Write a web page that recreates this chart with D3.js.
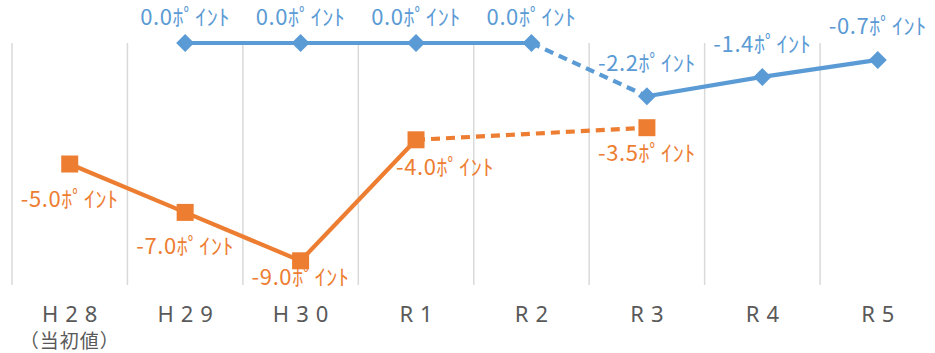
<!DOCTYPE html>
<html><head><meta charset="utf-8">
<script src="https://cdn.jsdelivr.net/npm/d3@7"></script>
<style>html,body{margin:0;padding:0;background:#fff;}</style>
</head><body>
<svg id="chart" width="935" height="353"></svg>
<script>
// ---- data ----
const categories = ["H28","H29","H30","R1","R2","R3","R4","R5"];
const subLabels  = ["（当初値）","","","","","","",""];
const blueValues   = [null, 0.0, 0.0, 0.0, 0.0, -2.2, -1.4, -0.7];
const orangeValues = [-5.0, -7.0, -9.0, -4.0, null, -3.5, null, null];
const blueDashed   = [[4,5]];
const orangeDashed = [[3,5]];
const unitLabel = "ﾎﾟｲﾝﾄ";

// ---- layout (label offsets from their point, px) ----
const blueLabelOffsets   = [null,[0,-26],[0,-26],[0,-26],[0,-26],[0,-33],[0,-33],[0,-34]];
const orangeLabelOffsets = [[0,35],[0,34],[0,16],[29,27],null,[0,25],null,null];

const svg = d3.select("#chart");
const x = d3.scaleBand().domain(categories).range([12, 935.5]).padding(0);
const y = d3.scaleLinear().domain([-10, 0]).range([285, 43]);
const cx = i => x(categories[i]) + x.bandwidth()/2;

// gridlines
svg.append("g").selectAll("line").data(categories).join("line")
  .attr("x1", d => x(d)).attr("x2", d => x(d))
  .attr("y1", y(0)).attr("y2", y(-10))
  .attr("stroke", "#d9d9d9").attr("stroke-width", 1.5);

// axis
const axis = svg.append("g").attr("transform", `translate(0,${y(-10)})`)
  .call(d3.axisBottom(x).tickSize(0).tickPadding(0));
axis.select(".domain").remove();
axis.selectAll(".tick text").remove();
axis.selectAll(".tick").each(function(d, i) {
  const g = d3.select(this);
  g.append("text").attr("y", 36.5).attr("x", 3.5)
    .attr("text-anchor", "middle")
    .attr("fill", "#595959")
    .style("font-family", "'Noto Sans', sans-serif")
    .style("font-size", "22px")
    .style("letter-spacing", "7px")
    .text(d);
  if (subLabels[i]) {
    g.append("text").attr("y", 62.5).attr("x", 0)
      .attr("text-anchor", "middle")
      .attr("fill", "#595959")
      .style("font-family", "'Noto Sans CJK JP', sans-serif")
      .style("font-size", "19px")
      .style("letter-spacing", "1px")
      .text(subLabels[i]);
  }
});

function drawSeries(values, dashed, color, symbol, symSize, rotate, offsets) {
  const isDashed = (a,b) => dashed.some(p => p[0]===a && p[1]===b);
  const segs = [];
  for (let i = 0; i < values.length - 1; i++) {
    if (values[i] != null && values[i+1] != null && !isDashed(i, i+1)) segs.push({a:i, b:i+1, dash:false});
  }
  dashed.forEach(p => segs.push({a:p[0], b:p[1], dash:true}));
  const g = svg.append("g");
  g.selectAll("line").data(segs).join("line")
    .attr("x1", d => cx(d.a)).attr("y1", d => y(values[d.a]))
    .attr("x2", d => cx(d.b)).attr("y2", d => y(values[d.b]))
    .attr("stroke", color).attr("stroke-width", 4.2)
    .attr("stroke-dasharray", d => d.dash ? "9,6" : null);
  const pts = values.map((v,i) => ({v,i})).filter(d => d.v != null);
  g.selectAll("path").data(pts).join("path")
    .attr("d", d3.symbol().type(symbol).size(symSize))
    .attr("transform", d => `translate(${cx(d.i)},${y(d.v)}) rotate(${rotate})`)
    .attr("fill", color);
  g.selectAll("text").data(pts).join("text")
    .attr("x", d => cx(d.i) + offsets[d.i][0])
    .attr("y", d => y(d.v) + offsets[d.i][1])
    .attr("dy", "0.36em")
    .attr("text-anchor", "middle")
    .attr("fill", color)
    .style("font-family", "'Noto Sans CJK JP', sans-serif")
    .style("font-size", "22px")
    .style("letter-spacing", "0.6px")
    .text(d => d.v.toFixed(1) + unitLabel);
}

drawSeries(blueValues, blueDashed, "#5b9bd5", d3.symbolSquare, 162, 45, blueLabelOffsets);
drawSeries(orangeValues, orangeDashed, "#ed7d31", d3.symbolSquare, 289, 0, orangeLabelOffsets);
</script>
</body></html>
